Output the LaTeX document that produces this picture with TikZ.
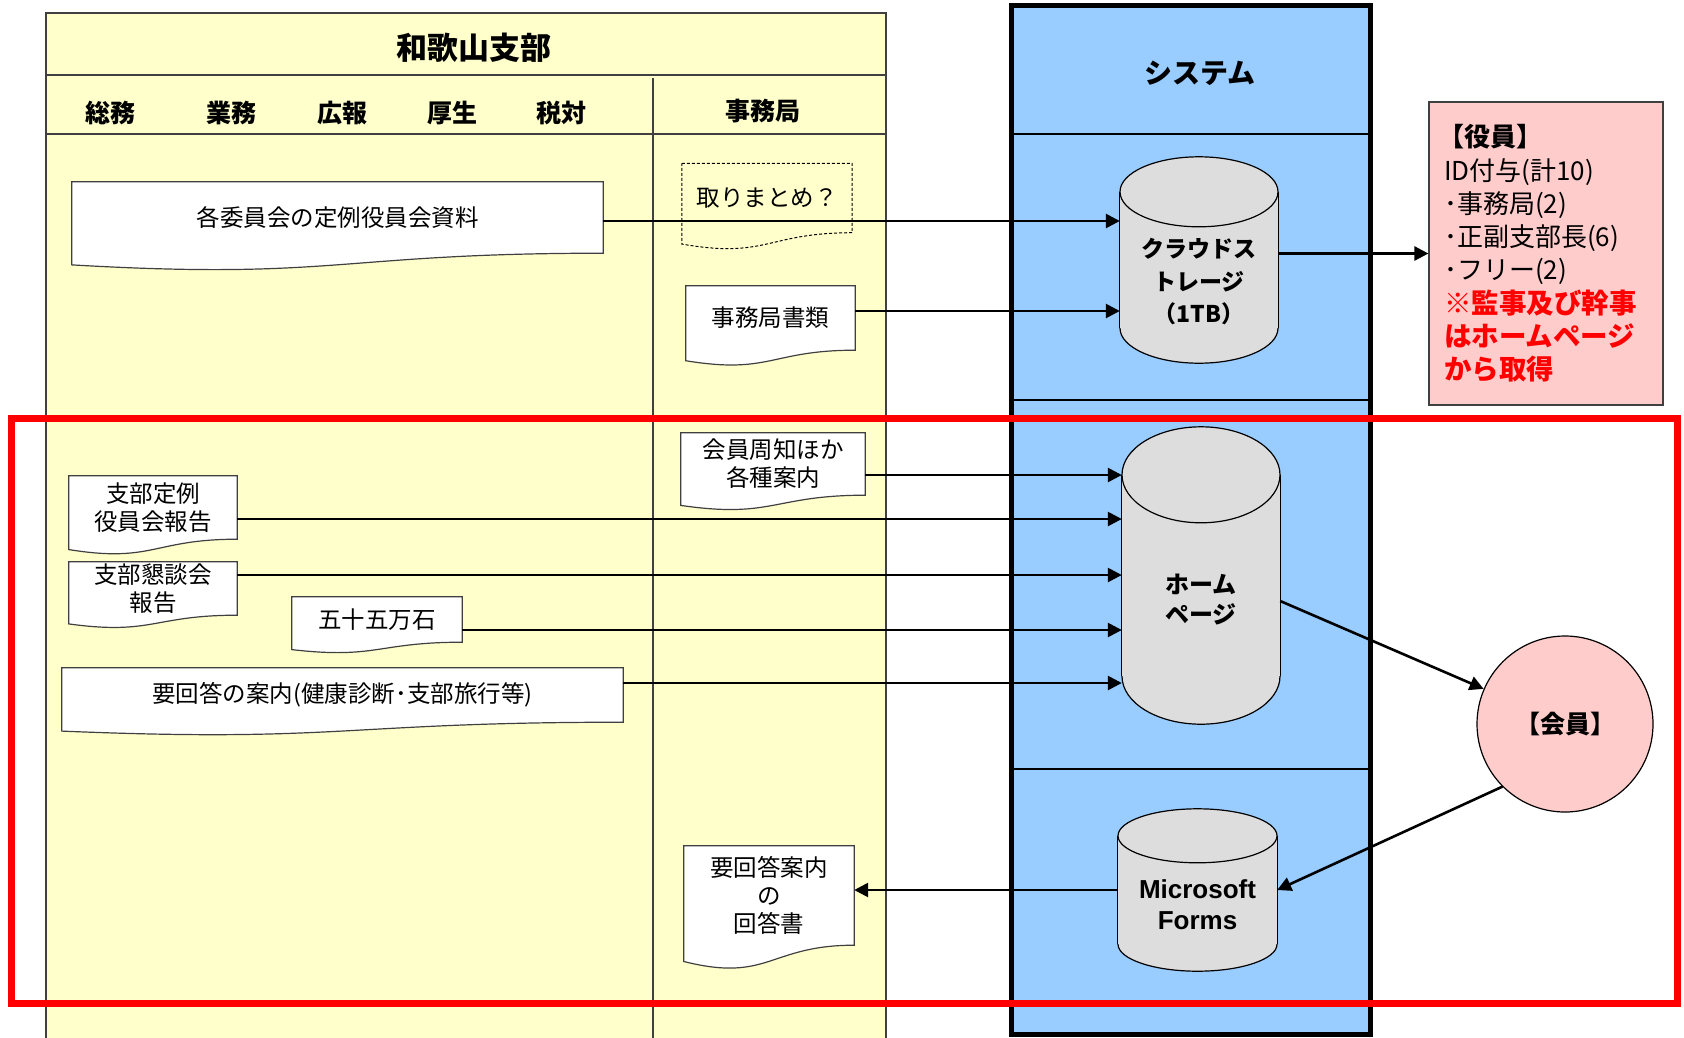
\documentclass[tikz,border=0pt]{standalone}
\usepackage{fontspec}
\newfontfamily\jp{Noto Sans CJK JP}
\newfontfamily\lat{Liberation Sans}
\usetikzlibrary{arrows.meta,calc}
\pgfdeclarelayer{bg}
\pgfsetlayers{bg,main}
\definecolor{yel}{HTML}{FFFFCC}
\definecolor{blu}{HTML}{99CCFF}
\definecolor{cylg}{HTML}{DDDDDD}
\definecolor{pnk}{HTML}{FFCCCC}
\definecolor{lineg}{HTML}{404040}
\newcommand\docshape[3]{%
  \begin{pgfonlayer}{bg}
  \draw[#3] (#1.north west) -- (#1.north east) -- (#1.south east)
    .. controls (#1.south) and ($(#1.south)+(0,0.381*#2)$) .. ($(#1.south west)+(0,0.1645*#2)$) -- cycle;
  \end{pgfonlayer}}
\newcommand\cylshape[3]{%
  \begin{pgfonlayer}{bg}
  \filldraw[cylst] ($(#1.south)+(0,-#3)$) ellipse [x radius=#2, y radius=#3];
  \fill[cylg] ($(#1.north west)+(0,#3)$) rectangle ($(#1.south east)+(0,-#3)$);
  \draw[cylst] ($(#1.north west)+(0,#3)$) -- ($(#1.south west)+(0,-#3)$);
  \draw[cylst] ($(#1.north east)+(0,#3)$) -- ($(#1.south east)+(0,-#3)$);
  \filldraw[cylst] ($(#1.north)+(0,#3)$) ellipse [x radius=#2, y radius=#3];
  \end{pgfonlayer}}
\tikzset{
  panel/.style={draw=lineg, line width=1.2},
  doc/.style={draw=lineg, line width=1.2, fill=white},
  docdash/.style={draw=black, line width=1, dash pattern=on 3pt off 2pt},
  docnode/.style={inner sep=0, align=center, font=\jp\fontsize{23.5}{28}\selectfont},
  hdr/.style={font=\jp\bfseries\fontsize{25}{30}\selectfont},
  arr/.style={line width=2.6, -{Triangle[length=14pt,width=14pt]}},
  cylst/.style={draw=black, line width=1.2, fill=cylg},
  cylbox/.style={inner sep=0},
  cyltext/.style={align=center, inner sep=0, font=\jp\bfseries\fontsize{23}{32.5}\selectfont},
  redln/.style={text=red, font=\jp\bfseries\fontsize{27.5}{33.3}\selectfont},
}
\begin{document}
\begin{tikzpicture}[x=1pt,y=-1pt]
\useasboundingbox (0,0) rectangle (1684,1037);
% panels
\begin{pgfonlayer}{bg}
\fill[white] (0,0) rectangle (1684,1037);
\draw[panel, fill=yel] (46,13) rectangle (886,1045);
\draw[panel] (46,75) -- (886,75);
\draw[panel] (46,134) -- (886,134);
\draw[panel] (653,78) -- (653,1045);
\draw[line width=5, fill=blu] (1011,5.5) rectangle (1370,1034.5);
\draw[line width=1.2] (1013.5,134) -- (1367.5,134);
\draw[line width=1.2] (1013.5,400) -- (1367.5,400);
\draw[line width=1.2] (1013.5,769) -- (1367.5,769);
\end{pgfonlayer}
% headers
\node[font=\jp\bfseries\fontsize{31}{36}\selectfont] (title) at (474,48) {和歌山支部};
\node[hdr] (h1) at (110,113) {総務};
\node[hdr] (h2) at (231,113) {業務};
\node[hdr] (h3) at (342,113) {広報};
\node[hdr] (h4) at (452,113) {厚生};
\node[hdr] (h5) at (561,113) {税対};
\node[hdr] (h6) at (763,111) {事務局};
\node[font=\jp\bfseries\fontsize{28}{34}\selectfont] (sys) at (1200,73) {システム};
% documents
\node[docnode, minimum width=531, minimum height=71] (d1) at (337.5,217.5) {各委員会の定例役員会資料};
\docshape{d1}{71}{doc}
\node[docnode, minimum width=170, minimum height=69] (d2) at (767,198) {取りまとめ？};
\docshape{d2}{69}{docdash}
\node[docnode, minimum width=169, minimum height=64] (d3) at (770.5,318) {事務局書類};
\docshape{d3}{64}{doc}
\node[docnode, minimum width=184, minimum height=62] (d4) at (773,464) {会員周知ほか\\各種案内};
\docshape{d4}{62}{doc}
\node[docnode, minimum width=168, minimum height=63] (d5) at (153,507.5) {支部定例\\役員会報告};
\docshape{d5}{63}{doc}
\node[docnode, minimum width=168, minimum height=53] (d6) at (153,588.5) {支部懇談会\\報告};
\docshape{d6}{53}{doc}
\node[docnode, minimum width=170, minimum height=45] (d7) at (377,619.5) {五十五万石};
\docshape{d7}{45}{doc}
\node[docnode, minimum width=561, minimum height=54] (d8) at (342.5,695) {要回答の案内(健康診断･支部旅行等)};
\docshape{d8}{54}{doc}
\node[docnode, minimum width=170, minimum height=99] (d9) at (769,895.5) {要回答案内\\の\\回答書};
\docshape{d9}{99}{doc}
% cylinders
\node[cylbox, minimum width=158, minimum height=206] (cs) at (1199,260) {};
\cylshape{cs}{79}{35}
\node[cyltext] (cstext) at (1199,282) {クラウドス\\トレージ\\（1TB）};
\node[cylbox, minimum width=158, minimum height=297] (hp) at (1201,575.5) {};
\cylshape{hp}{79}{48}
\node[cyltext, font=\jp\bfseries\fontsize{24}{30}\selectfont] (hptext) at (1201,600) {ホーム\\ページ};
\node[cylbox, minimum width=159, minimum height=162] (mf) at (1197.5,890) {};
\cylshape{mf}{79.5}{27}
\node[cyltext, font=\lat\bfseries\fontsize{26}{31}\selectfont] (mftext) at (1197.5,904.5) {Microsoft\\Forms};
% officers box
\node[draw=lineg, line width=1.2, fill=pnk, minimum width=234, minimum height=303, text width=204, align=left, inner sep=0,
  font=\jp\fontsize{26}{33.3}\selectfont] (yakuin) at (1546,253.5)
  {\hspace*{-6pt}{\bfseries 【役員】}\\ID付与(計10)\\･事務局(2)\\･正副支部長(6)\\･フリー(2)\\
   {\color{red}\bfseries\fontsize{27.5}{33.3}\selectfont ※監事及び幹事}\\
   {\color{red}\bfseries\fontsize{27.5}{33.3}\selectfont はホームページ}\\
   {\color{red}\bfseries\fontsize{27.5}{33.3}\selectfont から取得}};
% member circle
\node[circle, draw=black, line width=1.2, fill=pnk, minimum size=176, inner sep=0,
  font=\jp\bfseries\fontsize{25}{30}\selectfont] (kaiin) at (1565,724) {【会員】};
% connector rows
\coordinate (r1) at (0,221);
\coordinate (r2) at (0,311);
\coordinate (r4) at (0,475);
\coordinate (r5) at (0,519);
\coordinate (r6) at (0,575);
\coordinate (r7) at (0,630);
\coordinate (r8) at (0,683);
\draw[arr] (d1.east |- r1) -- (cs.west |- r1);
\draw[arr] (d3.east |- r2) -- (cs.west |- r2);
\draw[arr] (cs.east |- yakuin.west) -- (yakuin.west);
\draw[arr] (d4.east |- r4) -- (hp.west |- r4);
\draw[arr] (d5.east |- r5) -- (hp.west |- r5);
\draw[arr] (d6.east |- r6) -- (hp.west |- r6);
\draw[arr] (d7.east |- r7) -- (hp.west |- r7);
\draw[arr] (d8.east |- r8) -- (hp.west |- r8);
\draw[arr] ($(hp.east)+(0,25.5)$) -- (kaiin);
\draw[arr] (kaiin.225) -- (mf.east);
\draw[arr] (mf.west) -- (mf.west -| d9.east);
% red frame
\draw[red, line width=7] (11.5,418) rectangle (1677,1003);
\end{tikzpicture}
\end{document}
